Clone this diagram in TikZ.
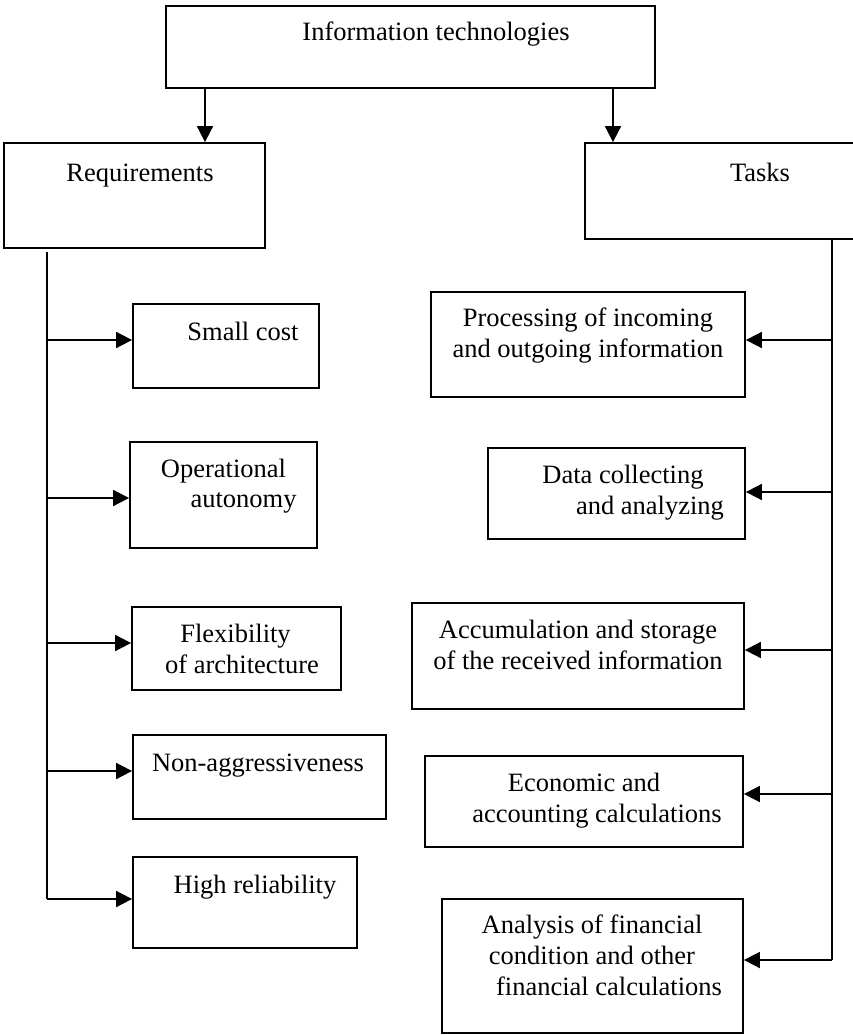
\documentclass[tikz,border=0pt]{standalone}
\usepackage{fontspec}
\setmainfont{Liberation Serif}
\usetikzlibrary{arrows.meta}
\tikzset{
  box/.style={draw, line width=1.8pt, inner sep=0pt, rectangle},
  txt/.style={anchor=base, inner sep=0pt, font=\fontsize{26.5pt}{31pt}\selectfont},
  wire/.style={line width=1.8pt},
  arr/.style={line width=1.8pt, -{Triangle[length=16pt,width=16pt]}}
}
\begin{document}
\begin{tikzpicture}[x=1pt,y=-1pt]
\useasboundingbox (0,0) rectangle (853,1035);
\clip (0,0) rectangle (853,1035);
% boxes
\node[box, minimum width=489pt, minimum height=82pt] (it) at (410.5,47) {};
\node[box, minimum width=261pt, minimum height=105pt] (req) at (134.5,195.5) {};
\node[box, minimum width=275pt, minimum height=96pt] (tasks) at (722.5,191) {};
\node[box, minimum width=186pt, minimum height=84pt] (small) at (226,346) {};
\node[box, minimum width=187pt, minimum height=106pt] (oper) at (223.5,495) {};
\node[box, minimum width=209pt, minimum height=83pt] (flex) at (236.5,648.5) {};
\node[box, minimum width=253pt, minimum height=84pt] (nonagg) at (259.5,777) {};
\node[box, minimum width=224pt, minimum height=91pt] (high) at (245,902.5) {};
\node[box, minimum width=314pt, minimum height=105pt] (proc) at (588,344.5) {};
\node[box, minimum width=257pt, minimum height=91pt] (data) at (616.5,493.5) {};
\node[box, minimum width=332pt, minimum height=106pt] (accum) at (578,656) {};
\node[box, minimum width=318pt, minimum height=91pt] (econ) at (584,801.5) {};
\node[box, minimum width=301pt, minimum height=134pt] (anal) at (592.5,966) {};
% texts
\node[txt] (t-it) at (436,41) {Information technologies};
\node[txt] (t-req) at (140,182) {Requirements};
\node[txt] (t-tasks) at (760,182) {Tasks};
\node[txt] (t-small) at (243,340) {Small cost};
\node[txt] (t-oper1) at (223.5,477) {Operational};
\node[txt] (t-oper2) at (243.5,507) {autonomy};
\node[txt] (t-flex1) at (235.5,642) {Flexibility};
\node[txt] (t-flex2) at (242,673) {of architecture};
\node[txt] (t-nonagg) at (258,771) {Non-aggressiveness};
\node[txt] (t-high) at (255,893) {High reliability};
\node[txt] (t-proc1) at (588,326) {Processing of incoming};
\node[txt] (t-proc2) at (588,357) {and outgoing information};
\node[txt] (t-data1) at (623,483) {Data collecting};
\node[txt] (t-data2) at (650,514) {and analyzing};
\node[txt] (t-accum1) at (578,638) {Accumulation and storage};
\node[txt] (t-accum2) at (578,669) {of the received information};
\node[txt] (t-econ1) at (584,791) {Economic and};
\node[txt] (t-econ2) at (597,822) {accounting calculations};
\node[txt] (t-anal1) at (592,933) {Analysis of financial};
\node[txt] (t-anal2) at (592,964) {condition and other};
\node[txt] (t-anal3) at (609,995) {financial calculations};
% top arrows
\coordinate (da) at (205,0);
\coordinate (db) at (613,0);
\draw[arr] (da |- it.south) -- (da |- req.north);
\draw[arr] (db |- it.south) -- (db |- tasks.north);
% left spine
\coordinate (l0) at (47,252);
\coordinate (l1) at (47,340);
\coordinate (l2) at (47,498);
\coordinate (l3) at (47,643);
\coordinate (l4) at (47,771);
\coordinate (l5) at (47,899);
\draw[wire] (l0) -- (l5);
\draw[arr] (l1) -- (l1 -| small.west);
\draw[arr] (l2) -- (l2 -| oper.west);
\draw[arr] (l3) -- (l3 -| flex.west);
\draw[arr] (l4) -- (l4 -| nonagg.west);
\draw[arr] (l5) -- (l5 -| high.west);
% right spine
\coordinate (r1) at (832,340);
\coordinate (r2) at (832,492);
\coordinate (r3) at (832,650);
\coordinate (r4) at (832,794);
\coordinate (r5) at (832,960);
\draw[wire] (r1 |- tasks.south) -- (r5);
\draw[arr] (r1) -- (r1 -| proc.east);
\draw[arr] (r2) -- (r2 -| data.east);
\draw[arr] (r3) -- (r3 -| accum.east);
\draw[arr] (r4) -- (r4 -| econ.east);
\draw[arr] (r5) -- (r5 -| anal.east);
\end{tikzpicture}
\end{document}
